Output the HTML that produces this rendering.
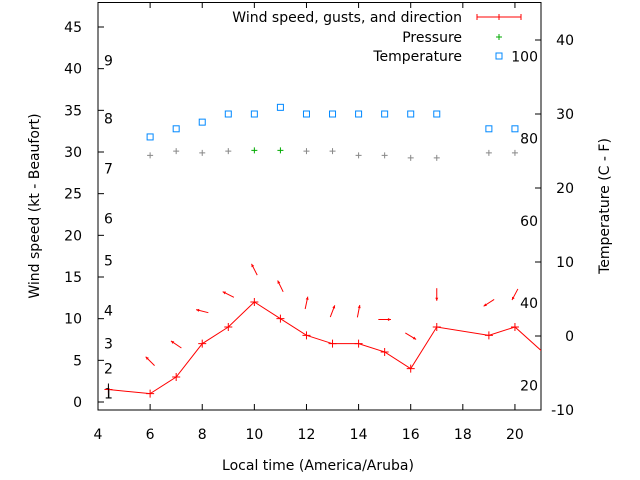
<!DOCTYPE html>
<html><head><meta charset="utf-8"><style>
body{margin:0;background:#fff}
svg{display:block;font-family:"DejaVu Sans","Liberation Sans",sans-serif;font-size:14px}
</style></head><body>
<svg id="c" width="640" height="480"></svg>
<script>
const hours=[4.4,6,7,8,9,10,11,12,13,14,15,16,17,19,20,21.6];
const windKt=[1.5,1,3,7,9,12,10,8,7,7,6,4,9,8,9,4.5];
const arrowHours=[6,7,8,9,10,11,12,13,14,15,16,17,19,20];
const arrowWind=[1,3,7,9,12,10,8,7,7,6,4,9,8,9];
const arrowDir=[315,304,284,297,333,334,12,21,11,90,121,180,237,208];
const pressHours=[6,7,8,9,10,11,12,13,14,15,16,17,19,20];
const pressVal=[29.6,30.1,29.9,30.1,30.2,30.2,30.1,30.1,29.6,29.6,29.3,29.3,29.9,29.9];
const tempHours=[6,7,8,9,10,11,12,13,14,15,16,17,19,20];
const tempC=[26.9,28.0,28.9,30.0,30.0,30.9,30.0,30.0,30.0,30.0,30.0,30.0,28.0,28.0];
const xTicks=[4,6,8,10,12,14,16,18,20];
const yTicks=[0,5,10,15,20,25,30,35,40,45];
const y2Ticks=[-10,0,10,20,30,40];
const beaufortKt=[1,4,7,11,17,22,28,34,41];
const beaufortLbl=['1','2','3','4','5','6','7','8','9'];
const fTicks=[20,40,60,80,100];

const L=98,R=541,T=2,B=410;
const X=h=>L+(h-4)*(R-L)/17;
const Y=v=>402-v*41.667/5;
const Y2=c=>336-c*7.4;
const NS='http://www.w3.org/2000/svg';
const svg=document.getElementById('c');
function el(tag,attrs,parent){const e=document.createElementNS(NS,tag);for(const k in attrs)e.setAttribute(k,attrs[k]);(parent||svg).appendChild(e);return e;}
function txt(x,y,s,anchor,g){const t=el('text',{x:x,y:y,'text-anchor':anchor||'start',fill:'#000'},g);t.textContent=s;return t;}

const clip=el('clipPath',{id:'pc'});el('rect',{x:L,y:T,width:R-L,height:B-T},clip);

const axes=el('g',{});


el('polyline',{points:`${L},${T} ${L},${B} ${R},${B} ${R},${T}`,fill:'none',stroke:'#000','stroke-width':1},axes);
el('line',{x1:L,y1:T+0.5,x2:R,y2:T+0.5,stroke:'#000'},axes);
xTicks.forEach(h=>{const x=X(h);
 el('line',{x1:x,y1:B,x2:x,y2:B-6,stroke:'#000'},axes);
 el('line',{x1:x,y1:T,x2:x,y2:T+6,stroke:'#000'},axes);
 const t=txt(x,439,String(h),'middle',axes);
 
 });
yTicks.forEach(v=>{const y=Y(v);
 el('line',{x1:L,y1:y,x2:L+6,y2:y,stroke:'#000'},axes);
 const t=txt(82,y+5,String(v),'end',axes);
 
 });
y2Ticks.forEach(v=>{const y=Y2(v);
 el('line',{x1:R,y1:y,x2:R-6,y2:y,stroke:'#000'},axes);
 const t=txt(574,y+5,String(v),'end',axes);
 
 });
beaufortKt.forEach((k,i)=>{
 const t=txt(104,Y(k)+5,beaufortLbl[i],'start',axes);
 
 });
fTicks.forEach(f=>{
 const t=txt(538,Y2((f-32)*5/9)+5,String(f),'end',axes);
 
 });
let t=txt(318,470,'Local time (America/Aruba)','middle');

t=txt(0,0,'Wind speed (kt - Beaufort)','middle');t.setAttribute('transform','translate(39,206) rotate(-90)');

t=txt(0,0,'Temperature (C - F)','middle');t.setAttribute('transform','translate(609,206) rotate(-90)');


const plot=el('g',{'clip-path':'url(#pc)'});
function plus(x,y,c,g,s){el('path',{d:`M${x-s},${y}H${x+s}M${x},${y-s}V${y+s}`,stroke:c,'stroke-width':1,fill:'none'},g);}
const wl=el('polyline',{points:hours.map((h,i)=>X(h)+','+Y(windKt[i])).join(' '),fill:'none',stroke:'#f00','stroke-width':1},plot);


hours.forEach((h,i)=>{const g=el('g',{},plot);
 
 
 plus(X(h),Y(windKt[i]),'#f00',g,4);});
el('line',{x1:X(4.4),y1:Y(1.5)-6,x2:X(4.4),y2:Y(1.5)+8,stroke:'#000'},plot);
arrowHours.forEach((h,i)=>{
 const a=arrowDir[i]*Math.PI/180, dx=Math.sin(a)*6.3, dy=-Math.cos(a)*6.3;
 const cx=X(h), cy=Y(arrowWind[i]+3.9);
 const g=el('g',{},plot);
 
 
 el('line',{x1:cx-dx,y1:cy-dy,x2:cx+dx,y2:cy+dy,stroke:'#f00','stroke-width':1},g);
 const hx=cx+dx,hy=cy+dy,ux=dx/6.3,uy=dy/6.3;
 el('polygon',{points:`${hx},${hy} ${hx-ux*3-uy*1.5},${hy-uy*3+ux*1.5} ${hx-ux*3+uy*1.5},${hy-uy*3-ux*1.5}`,fill:'#f00'},g);
});
pressHours.forEach((h,i)=>{const g=el('g',{},plot);
 
 
 plus(X(h),Y(pressVal[i]),(h===10||h===11)?'#0a0':'#888',g,3);});
tempHours.forEach((h,i)=>{const r=el('rect',{x:X(h)-3,y:Y2(tempC[i])-3,width:6,height:6,fill:'none',stroke:'#08f','stroke-width':1},plot);
 
 });

const lg=el('g',{});


let e=txt(462,22,'Wind speed, gusts, and direction','end',lg);

el('path',{d:'M477,17H521M477,14V20M521,14V20M499,14V20',stroke:'#f00',fill:'none'},lg);
e=txt(462,42,'Pressure','end',lg);

plus(499,37,'#0a0',lg,3);
e=txt(462,61,'Temperature','end',lg);

el('rect',{x:496,y:53,width:6,height:6,fill:'none',stroke:'#08f'},lg);
</script>
</body></html>
